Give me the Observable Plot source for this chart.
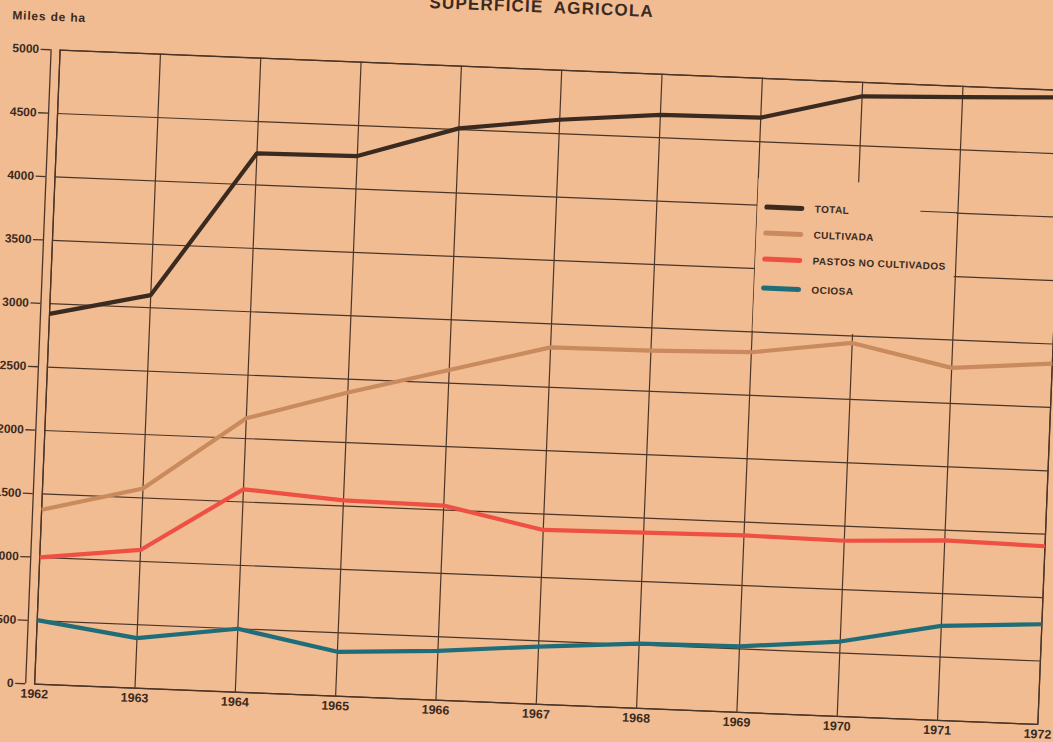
<!DOCTYPE html>
<html>
<head>
<meta charset="utf-8">
<script src="https://cdn.jsdelivr.net/npm/d3@7"></script>
<script src="https://cdn.jsdelivr.net/npm/@observablehq/plot@0.6"></script>
<style>
  html, body { margin: 0; padding: 0; width: 1053px; height: 742px; overflow: hidden; background: #f1bc92; }
  #page {
    position: absolute; left: 0; top: 0; width: 1080px; height: 742px;
    transform-origin: 548.5px 386.75px; transform: rotate(2.3deg);
    font-family: "Liberation Sans", Arial, sans-serif; color: #3b2a20;
  }
  #title {
    position: absolute; left: 0; width: 1053px; top: -1.5px; text-align: center;
    font-size: 17px; line-height: 17px; font-weight: bold; letter-spacing: 1.2px; word-spacing: 5px;
  }
  #unit {
    position: absolute; left: -2px; top: 30px; font-size: 12px; line-height: 14px;
    font-weight: bold; letter-spacing: 0.8px; white-space: nowrap;
  }
  .abs { position: absolute; }
  .lgtext { position: absolute; font-size: 10px; line-height: 12px; font-weight: bold; letter-spacing: 0.45px; white-space: nowrap; }
</style>
</head>
<body>
<div id="page">
  <div id="title">SUPERFICIE AGRICOLA</div>
  <div id="unit">Miles de ha</div>
</div>
<script>
// ---- data (miles de ha) ----
const years = [1962, 1963, 1964, 1965, 1966, 1967, 1968, 1969, 1970, 1971, 1972];
const total     = [2920, 3100, 4250, 4260, 4510, 4610, 4680, 4690, 4890, 4915, 4945];
const cultivada = [1375, 1575, 2160, 2395, 2605, 2815, 2820, 2840, 2945, 2780, 2845];
const pastos    = [1000, 1090, 1600, 1545, 1535, 1375, 1385, 1395, 1385, 1420, 1405];
const ociosa    = [505, 395, 500, 350, 390, 455, 510, 520, 590, 745, 790];
const yTicks = [0, 500, 1000, 1500, 2000, 2500, 3000, 3500, 4000, 4500, 5000];
const seriesNames = ["TOTAL", "CULTIVADA", "PASTOS NO CULTIVADOS", "OCIOSA"];
const seriesColors = ["#3a2a20", "#c98a5e", "#ee5044", "#1f6d78"];
const seriesValues = [total, cultivada, pastos, ociosa];

const bg = "#f1bc92";
const ink = "#3b2a20";
const gridColor = "#4b3527";

const W = 1080, H = 742;
const mL = 46.5, mT = 69.5, mB = 38, mR = W - 1050.5;

const lineMarks = seriesNames.map((name, k) =>
  Plot.line(years.map((yr, i) => ({year: yr, value: seriesValues[k][i]})), {
    x: "year", y: "value", stroke: seriesColors[k], strokeWidth: 4.2,
    strokeLinejoin: "round", strokeLinecap: "butt"
  })
);

const plot = Plot.plot({
  width: W, height: H,
  marginLeft: mL, marginRight: mR, marginTop: mT, marginBottom: mB,
  style: {background: "transparent", overflow: "visible", fontFamily: "Liberation Sans, Arial, sans-serif", color: ink},
  x: {domain: [years[0], years[years.length - 1]], label: null},
  y: {domain: [yTicks[0], yTicks[yTicks.length - 1]], label: null},
  marks: [
    Plot.gridX(years, {stroke: gridColor, strokeOpacity: 1, strokeWidth: 1.2}),
    Plot.gridY(yTicks, {stroke: gridColor, strokeOpacity: 1, strokeWidth: 1.2}),
    Plot.frame({stroke: gridColor, strokeWidth: 1.3}),
    Plot.ruleX([years[0]], {y1: yTicks[0], y2: yTicks[yTicks.length - 1], dx: -9, stroke: gridColor, strokeWidth: 1.3}),
    Plot.axisY(yTicks, {anchor: "left", tickSize: 10, tickPadding: 2, dx: -9, tickFormat: "d",
      fontSize: 12, fontWeight: "bold", stroke: gridColor, strokeWidth: 1.3}),
    Plot.axisX(years, {anchor: "bottom", tickSize: 0, tickPadding: 5, tickFormat: "d",
      fontSize: 12.5, fontWeight: "bold"}),
    ...lineMarks
  ]
});

const page = document.getElementById("page");
plot.style.position = "absolute";
plot.style.left = "0px";
plot.style.top = "0px";
page.insertBefore(plot, page.firstChild);

const xs = plot.scale("x"), ys = plot.scale("y");
const px = v => xs.apply(v);
const py = v => ys.apply(v);

function box(left, top, width, height, color, radius) {
  const d = document.createElement("div");
  d.className = "abs";
  d.style.left = left + "px"; d.style.top = top + "px";
  d.style.width = width + "px"; d.style.height = height + "px";
  d.style.background = color;
  if (radius) d.style.borderRadius = radius + "px";
  page.appendChild(d);
  return d;
}

// legend box clears the grid behind it
const cx1 = px(1969) + 1, cx2 = px(1971) - 1;
box(cx1, py(4210), cx2 - cx1, py(3000) - 1 - py(4210), bg);
// the 4000 grid line resumes just before the 1971 column
box(px(1970.63), py(4000) - 0.6, px(1971) - px(1970.63), 1.2, gridColor);

const y4000 = py(4000);
const rowOffsets = [2, 28, 54, 83];
seriesNames.forEach((name, k) => {
  const cy = y4000 + rowOffsets[k];
  box(px(1969) + 8, cy - 2.5, 40, 5, seriesColors[k], 2.5);
  const t = document.createElement("div");
  t.className = "lgtext";
  t.style.left = (px(1969) + 58) + "px";
  t.style.top = (cy - 5) + "px";
  t.style.color = ink;
  t.textContent = name;
  page.appendChild(t);
});
</script>
</body>
</html>
